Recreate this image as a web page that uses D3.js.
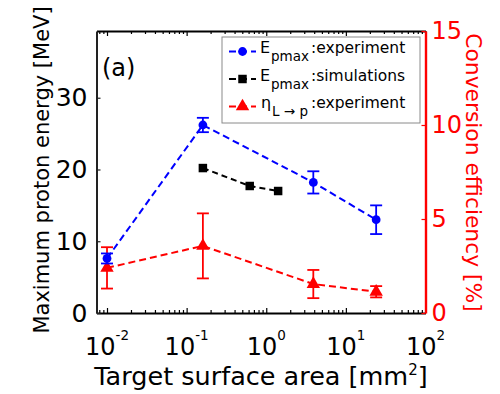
<!DOCTYPE html>
<html>
<head>
<meta charset="utf-8">
<script src="https://cdn.jsdelivr.net/npm/d3@7"></script>
<style>
  body { margin: 0; background: #fff; }
  text { font-family: "DejaVu Sans", "Liberation Sans", sans-serif; }
</style>
</head>
<body>
<svg id="chart" width="500" height="394"></svg>
<script>
// Target surface area [mm^2] of the measured shots
const area = [0.01, 0.16, 3.9, 24];
// Maximum proton energy, experiment [MeV] and its error
const energyExp = [7.6, 26.2, 18.2, 13.0];
const energyExpErr = [0.7, 1.0, 1.55, 2.0];
// Maximum proton energy, simulations [MeV]
const areaSim = [0.16, 0.62, 1.41];
const energySim = [20.2, 17.7, 17.0];
// Laser-to-proton conversion efficiency [%] and its error
const efficiency = [2.4, 3.57, 1.54, 1.13];
const efficiencyErr = [1.1, 1.73, 0.75, 0.3];
// Tick values
const xTickExps = [-2, -1, 0, 1, 2];
const energyTicks = [0, 10, 20, 30];
const effTicks = [0, 5, 10, 15];

const BLUE = "#0000ff", RED = "#ff0000", BLACK = "#000000";
const svg = d3.select("#chart");

const pL = 96.5, pR = 425.5, pT = 31, pB = 313;
const x = d3.scaleLog().domain([0.00738, 100]).range([pL, pR]);
const yL = d3.scaleLinear().domain([0, 39.3]).range([pB, pT]);
const yR = d3.scaleLinear().domain([0, 15]).range([pB, pT]);

// log minor ticks 2..9 inside the domain
const minorTicks = [];
for (let e = -3; e <= 1; e++) {
  for (let k = 2; k <= 9; k++) {
    const v = k * Math.pow(10, e);
    if (v > x.domain()[0] && v < x.domain()[1]) minorTicks.push(v);
  }
}
const majorTicks = xTickExps.map(e => Math.pow(10, e));

function styleAxis(g, color, width) {
  g.select(".domain").attr("stroke", color).attr("stroke-width", width);
  g.selectAll(".tick line").attr("stroke", color).attr("stroke-width", 1.2);
}

// bottom axis: major and minor ticks pointing inward
const xMajor = svg.append("g").attr("transform", `translate(0,${pB})`)
  .call(d3.axisBottom(x).tickValues(majorTicks).tickSize(-5).tickSizeOuter(0).tickFormat(""));
styleAxis(xMajor, BLACK, 2);
svg.append("g").attr("transform", `translate(0,${pB})`)
  .call(d3.axisBottom(x).tickValues(minorTicks).tickSize(-3).tickSizeOuter(0).tickFormat(""))
  .call(g => { g.select(".domain").remove(); g.selectAll(".tick line").attr("stroke", BLACK).attr("stroke-width", 1.2); });

// top axis
const xTop = svg.append("g").attr("transform", `translate(0,${pT})`)
  .call(d3.axisTop(x).tickValues(majorTicks).tickSize(-5).tickSizeOuter(0).tickFormat(""));
styleAxis(xTop, BLACK, 2);
svg.append("g").attr("transform", `translate(0,${pT})`)
  .call(d3.axisTop(x).tickValues(minorTicks).tickSize(-3).tickSizeOuter(0).tickFormat(""))
  .call(g => { g.select(".domain").remove(); g.selectAll(".tick line").attr("stroke", BLACK).attr("stroke-width", 1.2); });

// x tick labels as 10^n
const xLabels = svg.append("g");
majorTicks.forEach((v, i) => {
  const t = xLabels.append("text")
    .attr("x", x(v)).attr("y", 355)
    .attr("text-anchor", "middle")
    .attr("font-size", 24).attr("fill", BLACK);
  t.append("tspan").text("10");
  t.append("tspan").attr("font-size", 13.5).attr("dy", -15.5).text(String(xTickExps[i]));
});

// left axis
const yLeft = svg.append("g").attr("transform", `translate(${pL},0)`)
  .call(d3.axisLeft(yL).tickValues(energyTicks).tickSize(-4).tickSizeOuter(0).tickPadding(9));
styleAxis(yLeft, "#222", 2);
yLeft.selectAll(".tick text").attr("font-size", 25).attr("font-family", "DejaVu Sans").attr("fill", BLACK);

// right axis
const yRight = svg.append("g").attr("transform", `translate(${pR},0)`)
  .call(d3.axisRight(yR).tickValues(effTicks).tickSize(-4).tickSizeOuter(0).tickPadding(6));
styleAxis(yRight, RED, 2.4);
yRight.selectAll(".tick text").attr("font-size", 24).attr("font-family", "DejaVu Sans").attr("fill", RED);

// axis titles
svg.append("text").attr("x", 261).attr("y", 385)
  .attr("text-anchor", "middle").attr("font-size", 25.5).attr("fill", BLACK)
  .call(t => {
    t.append("tspan").text("Target surface area [mm");
    t.append("tspan").attr("font-size", 15).attr("dy", -10).text("2");
    t.append("tspan").attr("dy", 10).text("]");
  });
svg.append("text").attr("transform", "translate(49,170) rotate(-90)")
  .attr("text-anchor", "middle").attr("font-size", 21).attr("fill", BLACK)
  .text("Maximum proton energy [MeV]");
svg.append("text").attr("transform", "translate(466,172.5) rotate(90)")
  .attr("text-anchor", "middle").attr("font-size", 21.8).attr("fill", RED)
  .text("Conversion efficiency [%]");

// panel tag
svg.append("text").attr("x", 102).attr("y", 75.5).attr("font-size", 24)
  .attr("fill", BLACK).text("(a)");

// data layers
const plot = svg.append("g");

function errorBars(xs, ys, errs, yScale, color) {
  const g = plot.append("g").attr("stroke", color).attr("stroke-width", 1.8).attr("fill", "none");
  xs.forEach((xv, i) => {
    const cx = x(xv), y1 = yScale(ys[i] - errs[i]), y2 = yScale(ys[i] + errs[i]);
    g.append("line").attr("x1", cx).attr("x2", cx).attr("y1", y1).attr("y2", y2);
    g.append("line").attr("x1", cx - 6).attr("x2", cx + 6).attr("y1", y1).attr("y2", y1);
    g.append("line").attr("x1", cx - 6).attr("x2", cx + 6).attr("y1", y2).attr("y2", y2);
  });
}

function dashedLine(xs, ys, yScale, color, dash) {
  const pts = xs.map((v, i) => [x(v), yScale(ys[i])]);
  plot.append("path").attr("d", d3.line()(pts))
    .attr("fill", "none").attr("stroke", color).attr("stroke-width", 2)
    .attr("stroke-dasharray", dash);
}

// efficiency (right axis)
dashedLine(area, efficiency, yR, RED, "7,4");
errorBars(area, efficiency, efficiencyErr, yR, RED);
plot.append("g").selectAll("path").data(area).join("path")
  .attr("transform", (d, i) => `translate(${x(d)},${yR(efficiency[i])})`)
  .attr("d", d3.symbol(d3.symbolTriangle, 78)())
  .attr("fill", RED);

// experiment energy (left axis)
dashedLine(area, energyExp, yL, BLUE, "7,4");
errorBars(area, energyExp, energyExpErr, yL, BLUE);
plot.append("g").selectAll("circle").data(area).join("circle")
  .attr("cx", d => x(d)).attr("cy", (d, i) => yL(energyExp[i]))
  .attr("r", 4.4).attr("fill", BLUE);

// simulated energy (left axis)
dashedLine(areaSim, energySim, yL, BLACK, "6,4");
plot.append("g").selectAll("path").data(areaSim).join("path")
  .attr("transform", (d, i) => `translate(${x(d)},${yL(energySim[i])})`)
  .attr("d", d3.symbol(d3.symbolSquare, 72)())
  .attr("fill", BLACK);

// legend
const lg = svg.append("g");
lg.append("rect").attr("x", 222).attr("y", 37).attr("width", 198).attr("height", 86)
  .attr("fill", "#fff").attr("stroke", "#8a8a8a").attr("stroke-width", 1);

const legendRows = [
  { color: BLUE, marker: "circle", y: 51.5, base: "E", sub: "pmax", tail: ":experiment", bx: 260, tx: 311 },
  { color: BLACK, marker: "square", y: 79, base: "E", sub: "pmax", tail: ":simulations", bx: 260, tx: 311 },
  { color: RED, marker: "triangle", y: 106.5, base: "η", sub: "L → p", tail: ":experiment", bx: 261, tx: 311 }
];
legendRows.forEach(r => {
  lg.append("line").attr("x1", 229).attr("x2", 256).attr("y1", r.y).attr("y2", r.y)
    .attr("stroke", r.color).attr("stroke-width", 2).attr("stroke-dasharray", "7,4");
  if (r.marker === "circle") {
    lg.append("circle").attr("cx", 242.5).attr("cy", r.y).attr("r", 4.4).attr("fill", r.color);
  } else {
    lg.append("path").attr("transform", `translate(242.5,${r.y})`)
      .attr("d", d3.symbol(r.marker === "square" ? d3.symbolSquare : d3.symbolTriangle, r.marker === "square" ? 72 : 78)())
      .attr("fill", r.color);
  }
  const baseY = r.y + 1.5;
  lg.append("text").attr("x", r.bx).attr("y", baseY).attr("font-size", 16).attr("fill", BLACK).text(r.base);
  lg.append("text").attr("x", r.bx + 11).attr("y", baseY + 8).attr("font-size", 13.5).attr("fill", BLACK).text(r.sub);
  lg.append("text").attr("x", r.tx).attr("y", baseY).attr("font-size", 15.5).attr("fill", BLACK).text(r.tail);
});
</script>
</body>
</html>
